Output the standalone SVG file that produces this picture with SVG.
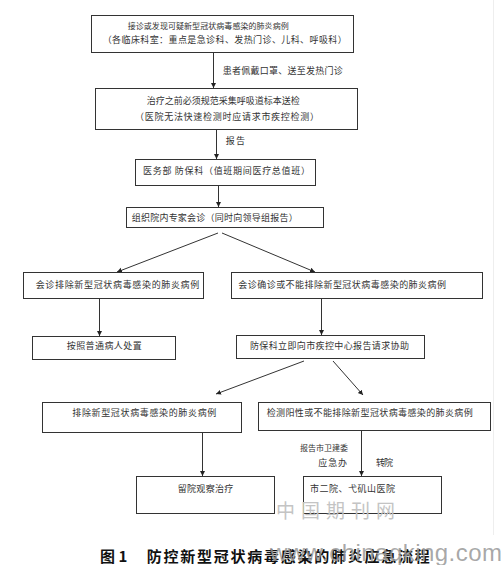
<svg xmlns="http://www.w3.org/2000/svg" width="502" height="565" viewBox="0 0 502 565">
<style>
.box{fill:#fff;stroke:#333;stroke-width:1}
.t{font-family:"Noto Sans CJK SC","Noto Sans",sans-serif;font-size:9px;fill:#333}
.s8{font-size:8px}
.c line{stroke:#333;stroke-width:1}
.title{font-family:"Noto Sans CJK SC","Liberation Serif",serif;font-size:15px;font-weight:bold;fill:#111}
.wm{font-family:"Noto Sans CJK SC",sans-serif;fill:#c4c4c4}
.wm2{font-family:"Liberation Sans",sans-serif;fill:#999}
</style>
<defs>
<marker id="ah" markerUnits="userSpaceOnUse" markerWidth="6" markerHeight="6" refX="5" refY="2.5" orient="auto">
<path d="M0,0 L5,2.5 L0,5 z" fill="#222"/>
</marker>
</defs>
<rect width="502" height="565" fill="#fff"/>
<line x1="493.5" y1="0" x2="493.5" y2="535" stroke="#eee" stroke-width="1"/>

<g class="c" id="connectors">
<line x1="213.5" y1="53" x2="213.5" y2="88" marker-end="url(#ah)"/>
<line x1="216.5" y1="130" x2="216.5" y2="159" marker-end="url(#ah)"/>
<line x1="218.5" y1="186" x2="218.5" y2="207" marker-end="url(#ah)"/>
<line x1="218" y1="233" x2="117" y2="272" marker-end="url(#ah)"/>
<line x1="222" y1="233" x2="315" y2="272" marker-end="url(#ah)"/>
<line x1="99.5" y1="299" x2="99.5" y2="336" marker-end="url(#ah)"/>
<line x1="321.5" y1="299" x2="321.5" y2="335" marker-end="url(#ah)"/>
<line x1="304" y1="361" x2="216" y2="394" marker-end="url(#ah)"/>
<line x1="333" y1="361" x2="363" y2="395" marker-end="url(#ah)"/>
<line x1="202.5" y1="432" x2="202.5" y2="476" marker-end="url(#ah)"/>
<line x1="361.5" y1="431" x2="361.5" y2="476" marker-end="url(#ah)"/>
<text class="t" x="222.7" y="73.5" textLength="120" lengthAdjust="spacing">患者佩戴口罩、送至发热门诊</text>
<text class="t" x="225.7" y="143.5" textLength="19.3" lengthAdjust="spacing">报告</text>
<text class="t s8" x="300" y="451" textLength="48" lengthAdjust="spacing">报告市卫建委</text>
<text class="t" x="318.3" y="466" textLength="28.7" lengthAdjust="spacing">应急办</text>
<text class="t" x="376" y="466" textLength="17" lengthAdjust="spacing">转院</text>
</g>

<g id="n1"><rect class="box" x="91.5" y="15.5" width="262" height="37"/>
<text class="t s8" x="127.7" y="28.5" textLength="161" lengthAdjust="spacing">接诊或发现可疑新型冠状病毒感染的肺炎病例</text>
<text class="t" x="102.7" y="42.5" textLength="244" lengthAdjust="spacing">（各临床科室：重点是急诊科、发热门诊、儿科、呼吸科）</text></g>

<g id="n2"><rect class="box" x="95.5" y="88.5" width="262" height="41"/>
<text class="t" x="146.7" y="103.5" textLength="153" lengthAdjust="spacing">治疗之前必须规范采集呼吸道标本送检</text>
<text class="t" x="135" y="120" textLength="184" lengthAdjust="spacing">（医院无法快速检测时应请求市疾控检测）</text></g>

<g id="n3"><rect class="box" x="135.5" y="159.5" width="180" height="26"/>
<text class="t" x="143" y="174" textLength="167" lengthAdjust="spacing">医务部 防保科（值班期间医疗总值班）</text></g>

<g id="n4"><rect class="box" x="126.5" y="207.5" width="197" height="20"/>
<text class="t" x="131.7" y="221" textLength="166" lengthAdjust="spacing">组织院内专家会诊（同时向领导组报告）</text></g>

<g id="n5"><rect class="box" x="23.5" y="272.5" width="180" height="26"/>
<text class="t" x="35.7" y="287.5" textLength="163.6" lengthAdjust="spacing">会诊排除新型冠状病毒感染的肺炎病例</text></g>

<g id="n6"><rect class="box" x="231.5" y="272.5" width="251" height="26"/>
<text class="t" x="238.3" y="287.5" textLength="207.7" lengthAdjust="spacing">会诊确诊或不能排除新型冠状病毒感染的肺炎病例</text></g>

<g id="n7"><rect class="box" x="32.5" y="336.5" width="143" height="23"/>
<text class="t" x="66.7" y="348.5" textLength="75" lengthAdjust="spacing">按照普通病人处置</text></g>

<g id="n8"><rect class="box" x="236.5" y="335.5" width="188" height="23"/>
<text class="t" x="250" y="348.5" textLength="159" lengthAdjust="spacing">防保科立即向市疾控中心报告请求协助</text></g>

<g id="n9"><rect class="box" x="42.5" y="402.5" width="199" height="30"/>
<text class="t" x="72.3" y="416" textLength="144" lengthAdjust="spacing">排除新型冠状病毒感染的肺炎病例</text></g>

<g id="n10"><rect class="box" x="258.5" y="402.5" width="232" height="28"/>
<text class="t" x="266.7" y="416" textLength="206" lengthAdjust="spacing">检测阳性或不能排除新型冠状病毒感染的肺炎病例</text></g>

<g id="n11"><rect class="box" x="136.5" y="476.5" width="138" height="37"/>
<text class="t" x="177.7" y="491.7" textLength="55.6" lengthAdjust="spacing">留院观察治疗</text></g>

<g id="n12"><rect class="box" x="303.5" y="476.5" width="138" height="37"/>
<text class="t" x="310" y="491.7" textLength="85" lengthAdjust="spacing">市二院、弋矶山医院</text></g>

<text class="wm" x="276" y="518" font-size="19" textLength="119" lengthAdjust="spacing">中国期刊网</text>
<text class="title" x="100" y="562">图 1</text>
<text class="title" x="146.7" y="562" textLength="283" lengthAdjust="spacing">防控新型冠状病毒感染的肺炎应急流程</text>
<text class="wm2" x="270" y="561" font-size="24" textLength="232" lengthAdjust="spacing" fill-opacity="0.85">www.chinaqking.com</text>
</svg>
